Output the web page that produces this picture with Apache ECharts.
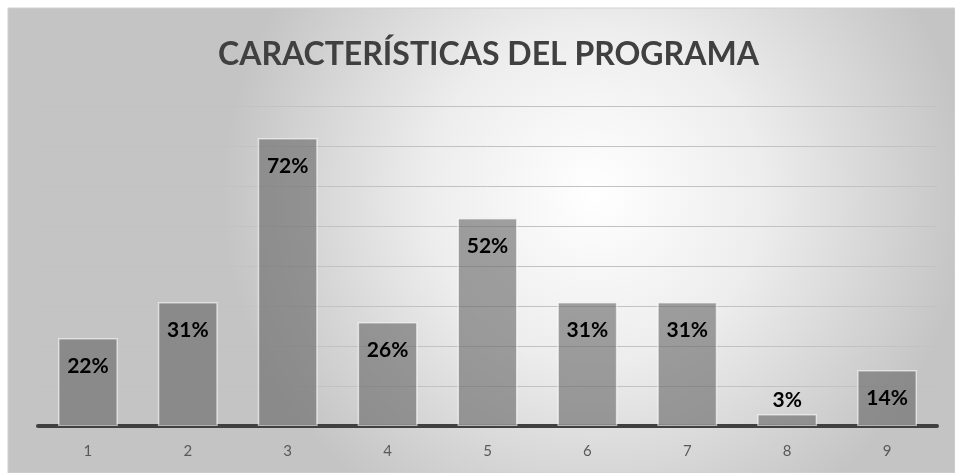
<!DOCTYPE html>
<html>
<head>
<meta charset="utf-8">
<script src="https://cdn.jsdelivr.net/npm/echarts@6/dist/echarts.min.js"></script>
<style>
  html, body { margin: 0; padding: 0; background: #ffffff; }
  #chart { width: 955px; height: 473px; }
</style>
</head>
<body>
<div id="chart"></div>
<script>
// Chart content
const titleText = 'CARACTERÍSTICAS DEL PROGRAMA';
const categories = ['1', '2', '3', '4', '5', '6', '7', '8', '9'];
const percentValues = [22, 31, 72, 26, 52, 31, 31, 3, 14];
// Bars too short to hold their label show it above instead
const labelAboveIndex = [7];

const chart = echarts.init(document.getElementById('chart'), null, { renderer: 'canvas' });

const seriesData = percentValues.map((v, i) => {
  const item = { value: v };
  if (labelAboveIndex.includes(i)) {
    item.label = { position: 'top', distance: 3 };
  }
  return item;
});

chart.setOption({
  animation: false,
  graphic: [{
    type: 'rect',
    z: -10,
    silent: true,
    shape: { x: 8, y: 8, width: 947, height: 465 },
    style: {
      fill: new echarts.graphic.RadialGradient(0.62, 0.4, 0.8, [
        { offset: 0, color: '#ffffff' },
        { offset: 0.45, color: '#ededed' },
        { offset: 1, color: '#c4c4c4' }
      ]),
      stroke: '#d0d0d0',
      lineWidth: 1
    }
  }],
  title: {
    text: titleText,
    left: 213,
    top: 34,
    textStyle: {
      fontFamily: 'Lato',
      fontWeight: 'bold',
      fontSize: 32,
      color: '#404040'
    }
  },
  grid: { left: 38, right: 18, top: 106, bottom: 47 },
  xAxis: {
    type: 'category',
    data: categories,
    axisLine: { lineStyle: { color: '#404040', width: 4 } },
    axisTick: { show: false },
    axisLabel: {
      color: '#595959',
      fontFamily: 'Lato',
      fontSize: 15,
      margin: 18
    }
  },
  yAxis: {
    type: 'value',
    min: 0,
    max: 80,
    interval: 10,
    axisLabel: { show: false },
    axisLine: { show: false },
    axisTick: { show: false },
    splitLine: { lineStyle: { color: '#c2c2c2', width: 1 } }
  },
  series: [{
    type: 'bar',
    data: seriesData,
    barWidth: '60%',
    itemStyle: {
      color: 'rgba(100,100,100,0.6)',
      borderColor: 'rgba(255,255,255,0.6)',
      borderWidth: 1.5
    },
    label: {
      show: true,
      position: 'insideTop',
      distance: 18,
      formatter: p => p.value + '%',
      fontFamily: 'Lato',
      fontWeight: 'bold',
      fontSize: 21,
      color: '#000000'
    }
  }]
});
</script>
</body>
</html>
